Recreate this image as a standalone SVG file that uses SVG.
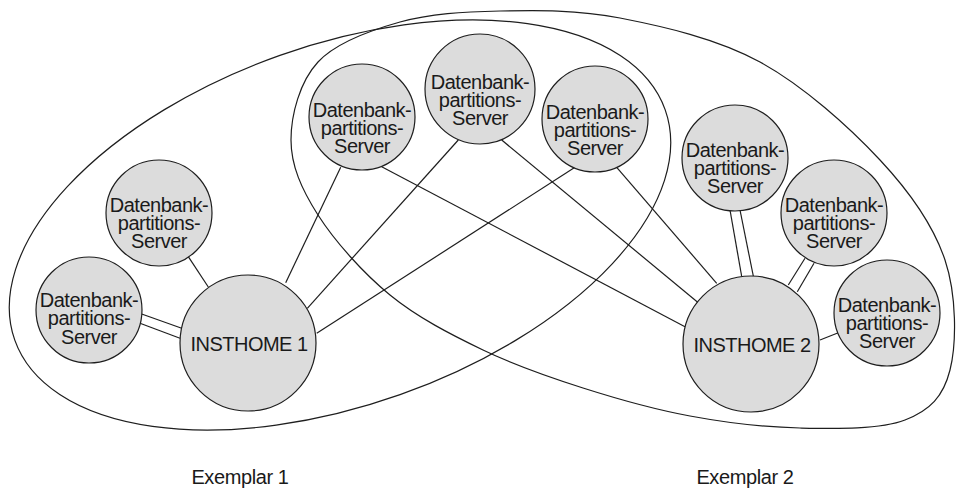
<svg xmlns="http://www.w3.org/2000/svg" width="958" height="488" viewBox="0 0 958 488">
  <style>
    .bg { fill: #ffffff; }
    .boundary { fill: none; stroke: #1e1e1e; stroke-width: 1.2; }
    .link { fill: none; stroke: #1e1e1e; stroke-width: 1.2; }
    .node { fill: #dcdcdc; stroke: #1e1e1e; stroke-width: 1.2; }
    .lbl { font-family: "Liberation Sans", Arial, sans-serif; font-size: 20px; fill: #1a1a1a; text-anchor: middle; letter-spacing: -0.5px; }
    .cap { font-family: "Liberation Sans", Arial, sans-serif; font-size: 20px; fill: #1a1a1a; text-anchor: middle; letter-spacing: -0.4px; }
  </style>
  <rect class="bg" x="0" y="0" width="958" height="488"/>

  <!-- instance boundaries -->
  <g id="instances">
    <ellipse id="instance1-boundary" class="boundary" cx="340" cy="225" rx="345" ry="180" transform="rotate(-19.5 340 225)"/>
    <path id="instance2-boundary" class="boundary" d="M291,140 C291,114.5 299.8,81.7 318,62 C336.2,42.3 369.7,30.5 400,22 C430.3,13.5 463.3,11.7 500,11 C536.7,10.3 576.7,9.5 620,18 C663.3,26.5 716.7,38.3 760,62 C803.3,85.7 849.2,127 880,160 C910.8,193 933.3,225 945,260 C956.7,295 956.7,343.3 950,370 C943.3,396.7 930,410.3 905,420 C880,429.7 835.8,428.7 800,428 C764.2,427.3 726.2,422.7 690,416 C653.8,409.3 617.5,399 583,388 C548.5,377 515.2,365.5 483,350 C450.8,334.5 417.5,317.5 390,295 C362.5,272.5 334.5,240.8 318,215 C301.5,189.2 291,165.5 291,140 Z"/>
  </g>

  <!-- connectors -->
  <g id="connectors">
    <!-- double links -->
    <line class="link" x1="141.7" y1="314" x2="181.7" y2="328.3"/>
    <line class="link" x1="140" y1="323.3" x2="180" y2="338.3"/>
    <line class="link" x1="730" y1="210" x2="741.7" y2="276.5"/>
    <line class="link" x1="740" y1="210" x2="753.3" y2="276"/>
    <line class="link" x1="805" y1="258.3" x2="788.3" y2="285"/>
    <line class="link" x1="814" y1="263.3" x2="797.3" y2="291.7"/>
    <!-- single links to INSTHOME 1 -->
    <line class="link" x1="188.3" y1="256.7" x2="208.3" y2="287"/>
    <line class="link" x1="340.7" y1="167.3" x2="285.7" y2="282.7"/>
    <line class="link" x1="458.3" y1="140" x2="307.3" y2="308.3"/>
    <line class="link" x1="575" y1="167.3" x2="316.7" y2="333.3"/>
    <!-- single links to INSTHOME 2 -->
    <line class="link" x1="381.7" y1="166.7" x2="685" y2="326.7"/>
    <line class="link" x1="501.7" y1="140" x2="698" y2="302.5"/>
    <line class="link" x1="616.7" y1="167.3" x2="716.7" y2="283.3"/>
    <line class="link" x1="820" y1="340" x2="838.3" y2="332.7"/>
  </g>

  <!-- database partition servers -->
  <g id="server-1">
    <circle class="node" cx="89" cy="310" r="53"/>
    <text class="lbl" x="89" y="307">Datenbank-</text>
    <text class="lbl" x="89" y="325">partitions-</text>
    <text class="lbl" x="89" y="344">Server</text>
  </g>
  <g id="server-2">
    <circle class="node" cx="159" cy="213" r="53"/>
    <text class="lbl" x="159" y="212">Datenbank-</text>
    <text class="lbl" x="159" y="230">partitions-</text>
    <text class="lbl" x="159" y="248">Server</text>
  </g>
  <g id="server-3">
    <circle class="node" cx="362" cy="117" r="53"/>
    <text class="lbl" x="362" y="117">Datenbank-</text>
    <text class="lbl" x="362" y="135">partitions-</text>
    <text class="lbl" x="362" y="153">Server</text>
  </g>
  <g id="server-4">
    <circle class="node" cx="480" cy="89" r="55"/>
    <text class="lbl" x="480" y="89">Datenbank-</text>
    <text class="lbl" x="480" y="107">partitions-</text>
    <text class="lbl" x="480" y="125">Server</text>
  </g>
  <g id="server-5">
    <circle class="node" cx="595" cy="119" r="53"/>
    <text class="lbl" x="595" y="119">Datenbank-</text>
    <text class="lbl" x="595" y="137">partitions-</text>
    <text class="lbl" x="595" y="155">Server</text>
  </g>
  <g id="server-6">
    <circle class="node" cx="735" cy="158" r="53"/>
    <text class="lbl" x="735" y="157">Datenbank-</text>
    <text class="lbl" x="735" y="175">partitions-</text>
    <text class="lbl" x="735" y="193">Server</text>
  </g>
  <g id="server-7">
    <circle class="node" cx="834" cy="213" r="53"/>
    <text class="lbl" x="834" y="212">Datenbank-</text>
    <text class="lbl" x="834" y="230">partitions-</text>
    <text class="lbl" x="834" y="248">Server</text>
  </g>
  <g id="server-8">
    <circle class="node" cx="887" cy="313" r="53"/>
    <text class="lbl" x="887" y="312">Datenbank-</text>
    <text class="lbl" x="887" y="330">partitions-</text>
    <text class="lbl" x="887" y="348">Server</text>
  </g>

  <!-- instance home directories -->
  <g id="insthome-1">
    <circle class="node" cx="248" cy="343" r="68"/>
    <text class="lbl" x="249" y="351">INSTHOME 1</text>
  </g>
  <g id="insthome-2">
    <circle class="node" cx="751" cy="344" r="68"/>
    <text class="lbl" x="752" y="352">INSTHOME 2</text>
  </g>

  <!-- instance captions -->
  <g id="captions">
    <text class="cap" x="240" y="484">Exemplar 1</text>
    <text class="cap" x="745" y="484">Exemplar 2</text>
  </g>
</svg>
